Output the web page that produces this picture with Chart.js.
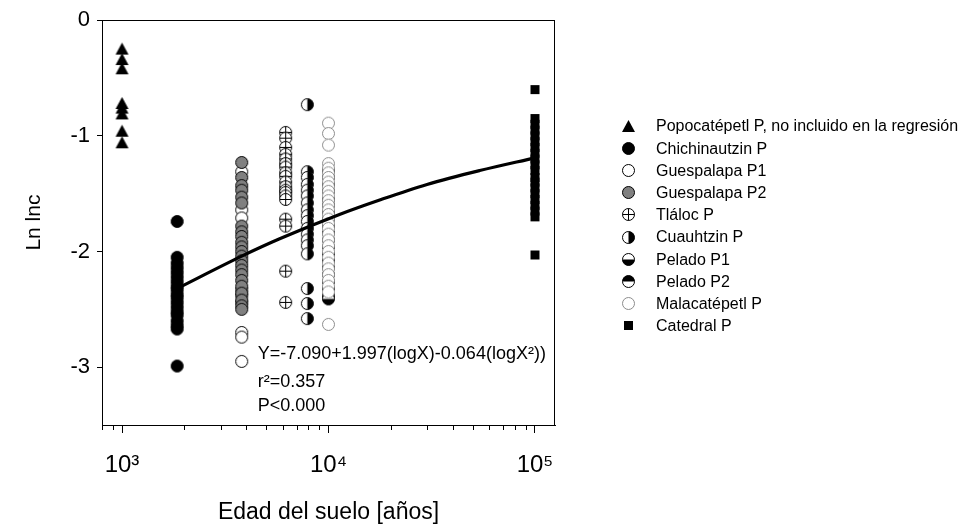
<!DOCTYPE html>
<html><head><meta charset="utf-8">
<style>html,body{margin:0;padding:0;background:#fff;}</style>
<script src="https://cdn.jsdelivr.net/npm/chart.js@4/dist/chart.umd.min.js"></script>
</head><body>
<canvas id="c" width="967" height="530"></canvas>
<script>
// ---------- data ----------
const seriesNames = ["Popocatépetl P, no incluido en la regresión","Chichinautzin P","Guespalapa P1","Guespalapa P2","Tláloc P","Cuauhtzin P","Pelado P1","Pelado P2","Malacatépetl P","Catedral P"];
const seriesAges = [1000, 1850, 3800, 3800, 6200, 7900, 10000, 10000, 10000, 100000];
const popocatepetl = [-0.25,-0.34,-0.42,-0.72,-0.76,-0.81,-0.96,-1.06];
const chichinautzin = [-1.74,-2.05,-2.1,-2.14,-2.18,-2.22,-2.26,-2.3,-2.33,-2.37,-2.4,-2.44,-2.48,-2.52,-2.55,-2.6,-2.64,-2.67,-2.99];
const guespalapaP1 = [-1.31,-1.64,-1.71,-2.33,-2.38,-2.44,-2.7,-2.74,-2.95];
const guespalapaP2 = [-1.23,-1.36,-1.43,-1.47,-1.53,-1.58,-1.78,-1.83,-1.87,-1.92,-1.96,-2.0,-2.04,-2.08,-2.12,-2.16,-2.2,-2.25,-2.3,-2.36,-2.42,-2.47,-2.5];
const tlaloc = [-0.97,-1.02,-1.1,-1.16,-1.2,-1.24,-1.27,-1.32,-1.35,-1.4,-1.44,-1.47,-1.49,-1.52,-1.55,-1.72,-1.78,-2.17,-2.44];
const cuauhtzin = [-0.73,-1.31,-1.36,-1.42,-1.47,-1.52,-1.58,-1.64,-1.69,-1.74,-1.8,-1.85,-1.9,-1.95,-2.02,-2.32,-2.45,-2.58];
const peladoP1 = [-1.3,-1.42,-1.55,-1.66,-1.78,-1.9,-2.02,-2.14,-2.26,-2.38,-2.41];
const peladoP2 = [-1.36,-1.48,-1.6,-1.72,-1.84,-1.96,-2.08,-2.2,-2.32];
const malacatepetl = [-0.89,-0.98,-1.08,-1.24,-1.28,-1.32,-1.36,-1.4,-1.44,-1.48,-1.52,-1.56,-1.6,-1.64,-1.68,-1.72,-1.76,-1.8,-1.85,-1.9,-1.95,-2.0,-2.05,-2.1,-2.15,-2.2,-2.25,-2.3,-2.35,-2.63];
const catedral = [-0.6,-0.85,-0.9,-0.95,-1.0,-1.05,-1.1,-1.15,-1.2,-1.25,-1.3,-1.36,-1.4,-1.45,-1.5,-1.55,-1.6,-1.65,-1.7,-2.03];
const seriesValues = [popocatepetl, chichinautzin, guespalapaP1, guespalapaP2, tlaloc, cuauhtzin, peladoP1, peladoP2, malacatepetl, catedral];
const seriesMarkers = ["tri","dot","open","gray","plus","halfR","halfB","halfT","grayOpen","sq"];
// regression curve
const fitAges = [1850, 3800, 5800, 11300, 17700, 30000, 54000, 100000];
const fitValues = [-2.32, -2.04, -1.89, -1.68, -1.555, -1.42, -1.30, -1.19];
// ticks
const xTickValues = [800,900,1000,2000,3000,4000,5000,6000,7000,8000,9000,10000,20000,30000,40000,50000,60000,70000,80000,90000,100000];
const xMajorLabels = {1000:"10³", 10000:"10⁴", 100000:"10⁵"};
const yTickValues = [0,-1,-2,-3];
const annotationLines = ["Y=-7.090+1.997(logX)-0.064(logX²))", "r²=0.357", "P<0.000"];
const xTitle = "Edad del suelo [años]";
const yTitle = "Ln lnc";

// ---------- markers ----------
function mk(type){
  const s = 15, c = document.createElement('canvas'); c.width = s; c.height = s;
  const g = c.getContext('2d'); const cx = s/2, cy = s/2, r = 6;
  g.lineWidth = 1;
  const circ = () => { g.beginPath(); g.arc(cx, cy, r, 0, Math.PI*2); };
  switch(type){
    case 'tri': g.beginPath(); g.moveTo(cx, cy-6.5); g.lineTo(cx+6.5, cy+5.5); g.lineTo(cx-6.5, cy+5.5); g.closePath(); g.fillStyle='#000'; g.fill(); break;
    case 'dot': circ(); g.fillStyle='#000'; g.fill(); g.strokeStyle='#000'; g.stroke(); break;
    case 'open': circ(); g.fillStyle='#fff'; g.fill(); g.strokeStyle='#000'; g.stroke(); break;
    case 'gray': circ(); g.fillStyle='#808080'; g.fill(); g.strokeStyle='#000'; g.stroke(); break;
    case 'plus': circ(); g.fillStyle='#fff'; g.fill(); g.strokeStyle='#000'; g.stroke();
      g.beginPath(); g.moveTo(cx-r, cy); g.lineTo(cx+r, cy); g.moveTo(cx, cy-r); g.lineTo(cx, cy+r); g.stroke(); break;
    case 'halfR': circ(); g.fillStyle='#fff'; g.fill();
      g.beginPath(); g.arc(cx, cy, r, -Math.PI/2, Math.PI/2); g.closePath(); g.fillStyle='#000'; g.fill();
      circ(); g.strokeStyle='#000'; g.stroke(); break;
    case 'halfB': circ(); g.fillStyle='#fff'; g.fill();
      g.beginPath(); g.arc(cx, cy, r, 0, Math.PI); g.closePath(); g.fillStyle='#000'; g.fill();
      circ(); g.strokeStyle='#000'; g.stroke(); break;
    case 'halfT': circ(); g.fillStyle='#fff'; g.fill();
      g.beginPath(); g.arc(cx, cy, r, Math.PI, Math.PI*2); g.closePath(); g.fillStyle='#000'; g.fill();
      circ(); g.strokeStyle='#000'; g.stroke(); break;
    case 'grayOpen': circ(); g.fillStyle='#fff'; g.fill(); g.strokeStyle='#8c8c8c'; g.stroke(); break;
    case 'sq': g.fillStyle='#000'; g.fillRect(cx-4.5, cy-4.5, 9, 9); break;
  }
  return c;
}
const markerImgs = seriesMarkers.map(mk);

const FONT = "'Liberation Sans', Arial, Helvetica, sans-serif";

// draw order: lower order value = drawn on top
const drawOrder = [9, 8, 6, 5, 7, 4, 3, 3, 2, 1];
const datasets = seriesNames.map((name, i) => ({
  label: name,
  data: seriesValues[i].map(v => ({x: seriesAges[i], y: v})),
  pointStyle: markerImgs[i],
  pointRadius: 6,
  order: drawOrder[i],
  showLine: false
}));
datasets.push({
  label: 'fit',
  data: fitAges.map((a, i) => ({x: a, y: fitValues[i]})),
  showLine: true, borderColor: '#000', borderWidth: 3.2, pointRadius: 0,
  cubicInterpolationMode: 'monotone', fill: false, order: 0
});

const extras = {
  id: 'extras',
  afterDraw(chart){
    const {ctx, chartArea: a, scales} = chart;
    ctx.save();
    // frame
    ctx.strokeStyle = '#000'; ctx.lineWidth = 1;
    ctx.strokeRect(Math.round(a.left)+0.5, Math.round(a.top)+0.5, Math.round(a.right-a.left)-1, Math.round(a.bottom-a.top));
    // minor x ticks
    const xs = scales.x;
    ctx.beginPath();
    xTickValues.forEach(v => {
      if (xMajorLabels[v]) return;
      const px = Math.round(xs.getPixelForValue(v)) + 0.5;
      ctx.moveTo(px, a.bottom); ctx.lineTo(px, a.bottom + 5);
    });
    ctx.stroke();
    // annotation
    ctx.fillStyle = '#000'; ctx.font = '18px ' + FONT; ctx.textBaseline = 'middle'; ctx.textAlign = 'left';
    const ax = xs.getPixelForValue(3800) + 16;
    const offs = [334, 362, 386];
    annotationLines.forEach((t, i) => ctx.fillText(t, ax, a.top + offs[i]));
    // legend
    ctx.font = '16px ' + FONT;
    const lx = a.right + 73, tx = a.right + 101, ly0 = 126, step = 22.2;
    seriesNames.forEach((n, i) => {
      const y = ly0 + i*step;
      const img = markerImgs[i];
      ctx.drawImage(img, Math.round(lx - img.width/2), Math.round(y - img.height/2));
      ctx.fillText(n, tx, y + 1);
    });
    ctx.restore();
  }
};

new Chart(document.getElementById('c'), {
  type: 'scatter',
  data: {datasets},
  plugins: [extras],
  options: {
    responsive: false, animation: false, devicePixelRatio: 1,
    layout: {padding: {left: 0, top: 19, right: 412, bottom: 0}},
    plugins: {legend: {display: false}, tooltip: {enabled: false}},
    scales: {
      x: {
        type: 'logarithmic', min: 800, max: 125000,
        afterBuildTicks: s => { s.ticks = xTickValues.map(v => ({value: v, major: !!xMajorLabels[v]})); },
        afterFit: s => { s.height = 105; },
        ticks: {autoSkip: false, maxRotation: 0, minRotation: 0, padding: 18, color: '#000',
          font: {family: FONT, size: 24}, callback: v => xMajorLabels[v] || ''},
        grid: {drawOnChartArea: false, drawTicks: true, tickLength: 8,
          tickColor: c => (c.tick && xMajorLabels[c.tick.value]) ? '#000' : 'rgba(0,0,0,0)'},
        border: {display: true, color: '#000', width: 1},
        title: {display: true, text: xTitle, color: '#000', font: {family: FONT, size: 23}, padding: {top: 0, bottom: 4}}
      },
      y: {
        min: -3.5, max: 0,
        afterBuildTicks: s => { s.ticks = yTickValues.map(v => ({value: v})); },
        afterFit: s => { s.width = 102; },
        ticks: {padding: 7, color: '#000', font: {family: FONT, size: 22}},
        grid: {drawOnChartArea: false, drawTicks: true, tickLength: 5, tickColor: '#000'},
        border: {display: true, color: '#000', width: 1},
        title: {display: true, text: yTitle, color: '#000', font: {family: FONT, size: 21}, padding: {top: 22, bottom: 0}}
      }
    }
  }
});
</script>
</body></html>
